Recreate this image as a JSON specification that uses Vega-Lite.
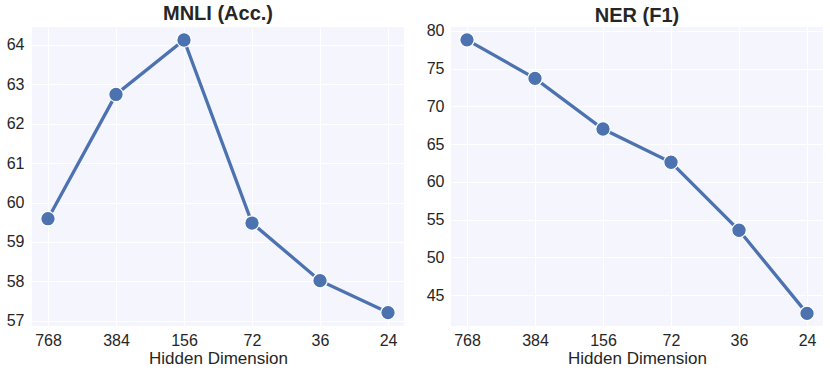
{
  "$schema": "https://vega.github.io/schema/vega-lite/v6.json",
  "background": "white",
  "padding": {"left": 6, "top": 4, "right": 6, "bottom": 4},
  "datasets": {
    "mnli": [
      {"dim": "768", "value": 59.59},
      {"dim": "384", "value": 62.74},
      {"dim": "156", "value": 64.12},
      {"dim": "72", "value": 59.48},
      {"dim": "36", "value": 58.02},
      {"dim": "24", "value": 57.21}
    ],
    "ner": [
      {"dim": "768", "value": 78.8},
      {"dim": "384", "value": 73.7},
      {"dim": "156", "value": 67.0},
      {"dim": "72", "value": 62.6},
      {"dim": "36", "value": 53.6},
      {"dim": "24", "value": 42.6}
    ]
  },
  "config": {
    "view": {"fill": "#F4F5FD", "stroke": null},
    "font": "Liberation Sans",
    "concat": {"spacing": 22},
    "axis": {
      "grid": true,
      "gridColor": "#FFFFFF",
      "gridWidth": 1,
      "domain": false,
      "ticks": false,
      "labelFontSize": 16,
      "labelColor": "#262626",
      "titleFontSize": 17,
      "titleFontWeight": "normal",
      "titleColor": "#262626",
      "labelFont": "Liberation Sans",
      "titleFont": "Liberation Sans"
    },
    "title": {"fontSize": 20, "fontWeight": "bold", "color": "#262626", "font": "Liberation Sans", "frame": "group"}
  },
  "hconcat": [
    {
      "width": 372,
      "height": 299,
      "title": {"text": "MNLI (Acc.)", "offset": 3},
      "data": {"name": "mnli"},
      "encoding": {
        "x": {"field": "dim", "type": "ordinal", "sort": ["768", "384", "156", "72", "36", "24"],
              "scale": {"type": "point", "padding": 0.235},
              "axis": {"title": "Hidden Dimension", "labelAngle": 0, "labelPadding": 6, "titlePadding": 2}},
        "y": {"field": "value", "type": "quantitative",
              "scale": {"domain": [56.87, 64.45], "nice": false, "zero": false},
              "axis": {"title": null, "values": [57, 58, 59, 60, 61, 62, 63, 64], "labelPadding": 8}}
      },
      "layer": [
        {"mark": {"type": "line", "color": "#4C72B0", "strokeWidth": 3.3}},
        {"mark": {"type": "point", "filled": true, "fill": "#4C72B0", "stroke": "white", "strokeWidth": 1.2, "opacity": 1, "size": 210}}
      ]
    },
    {
      "width": 372,
      "height": 299,
      "title": {"text": "NER (F1)", "offset": -3},
      "data": {"name": "ner"},
      "encoding": {
        "x": {"field": "dim", "type": "ordinal", "sort": ["768", "384", "156", "72", "36", "24"],
              "scale": {"type": "point", "padding": 0.235},
              "axis": {"title": "Hidden Dimension", "labelAngle": 0, "labelPadding": 6, "titlePadding": 2}},
        "y": {"field": "value", "type": "quantitative",
              "scale": {"domain": [40.93, 80.5], "nice": false, "zero": false},
              "axis": {"title": null, "values": [45, 50, 55, 60, 65, 70, 75, 80], "labelPadding": 7}}
      },
      "layer": [
        {"mark": {"type": "line", "color": "#4C72B0", "strokeWidth": 3.3}},
        {"mark": {"type": "point", "filled": true, "fill": "#4C72B0", "stroke": "white", "strokeWidth": 1.2, "opacity": 1, "size": 210}}
      ]
    }
  ]
}
